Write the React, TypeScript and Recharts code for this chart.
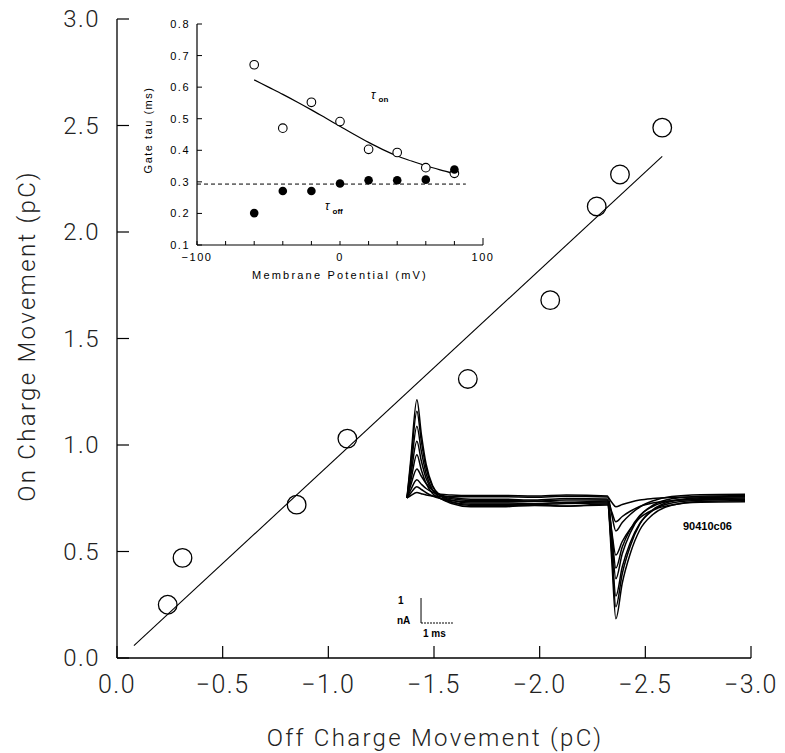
import React from 'react';
import {
  ComposedChart,
  LineChart,
  Line,
  Scatter,
  XAxis,
  YAxis,
  ReferenceLine,
} from 'recharts';

// main plot: on vs off charge (pC)
const offCharge = [-0.24, -0.31, -0.85, -1.09, -1.66, -2.05, -2.27, -2.38, -2.58];
const onCharge = [0.25, 0.47, 0.72, 1.03, 1.31, 1.68, 2.12, 2.27, 2.49];
const fitOff = [-0.08, -2.58];
const fitOn = [0.058, 2.355];
const mainXTicks = [0, -0.5, -1, -1.5, -2, -2.5, -3];
const mainYTicks = [0, 0.5, 1, 1.5, 2, 2.5, 3];

// inset: gate tau vs membrane potential
const voltages = [-60, -40, -20, 0, 20, 40, 60, 80];
const tauOn = [0.671, 0.47, 0.552, 0.491, 0.403, 0.393, 0.345, 0.327];
const tauOff = [0.201, 0.271, 0.271, 0.295, 0.305, 0.305, 0.307, 0.339];
const fitV = [-60, -50, -40, -30, -20, -10, 0, 10, 20, 30, 40, 50, 60, 70, 80];
const fitTau = [0.623, 0.6, 0.577, 0.553, 0.528, 0.502, 0.476, 0.45, 0.425, 0.402, 0.382, 0.366, 0.351, 0.338, 0.326];
const offLevelV = [-100, 88];
const offLevel = 0.293;
const insetXTicks = [-100, -80, -60, -40, -20, 0, 20, 40, 60, 80, 100];
const insetXLabels = [-100, 0, 100];
const insetYTicks = [0.1, 0.2, 0.3, 0.4, 0.5, 0.6, 0.7, 0.8];

// current traces (ms, nA)
const traceTime = [0, 0.12, 0.31, 0.45, 0.6, 0.8, 1.05, 1.4, 2.0, 3.0, 4.0, 5.0, 6.29, 6.42, 6.55, 6.75, 7.0, 7.3, 7.7, 8.3, 9.2, 10.6];
const trace1 = [0, 1.57, 3.93, 2.55, 1.35, 0.5, 0.09, -0.16, -0.3, -0.3, -0.28, -0.32, -0.24, -2.47, -4.83, -3.41, -2.23, -1.28, -0.67, -0.29, -0.14, -0.1];
const trace2 = [0, 1.39, 3.47, 2.26, 1.19, 0.46, 0.11, -0.09, -0.2, -0.2, -0.22, -0.18, -0.16, -2.15, -4.35, -3.03, -1.93, -1.05, -0.48, -0.13, 0.01, 0.05];
const trace3 = [0, 1.15, 2.87, 1.87, 0.97, 0.33, -0.01, -0.22, -0.35, -0.35, -0.3, -0.33, -0.28, -1.99, -3.92, -2.76, -1.79, -1.02, -0.51, -0.2, -0.09, -0.05];
const trace4 = [0, 0.91, 2.27, 1.48, 0.78, 0.31, 0.09, -0.03, -0.1, -0.1, -0.12, -0.08, -0.08, -1.57, -3.23, -2.23, -1.4, -0.73, -0.3, -0.03, 0.07, 0.1];
const trace5 = [0, 0.69, 1.73, 1.12, 0.58, 0.18, -0.02, -0.17, -0.25, -0.25, -0.27, -0.22, -0.2, -1.4, -2.8, -1.96, -1.26, -0.7, -0.34, -0.11, -0.03, 0];
const trace6 = [0, 0.52, 1.16, 0.87, 0.58, 0.31, 0.13, 0.02, -0.05, -0.05, -0.08, -0.02, -0.04, -1.32, -2.28, -1.74, -1.24, -0.8, -0.49, -0.28, -0.17, -0.15];
const trace7 = [0, 0.33, 0.73, 0.55, 0.38, 0.23, 0.15, 0.12, 0.1, 0.1, 0.08, 0.12, 0.08, -0.66, -1.32, -0.98, -0.66, -0.36, -0.12, 0.06, 0.13, 0.15];
const trace8 = [0, 0.2, 0.45, 0.34, 0.21, 0.08, -0.02, -0.1, -0.15, -0.15, -0.13, -0.17, -0.12, -0.55, -0.95, -0.74, -0.53, -0.34, -0.2, -0.11, -0.06, -0.05];
const trace9 = [0, 0.1, 0.22, 0.17, 0.12, 0.08, 0.06, 0.05, 0.05, 0.05, 0.03, 0.07, 0.04, -0.17, -0.35, -0.26, -0.17, -0.08, -0.02, 0.02, 0.04, 0.05];
const traces = [trace1, trace2, trace3, trace4, trace5, trace6, trace7, trace8, trace9];

const mainPoints = offCharge.map((x, i) => ({ x, y: onCharge[i] }));
const fitLine = fitOff.map((x, i) => ({ x, y: fitOn[i] }));
const onPoints = voltages.map((x, i) => ({ x, y: tauOn[i] }));
const offPoints = voltages.map((x, i) => ({ x, y: tauOff[i] }));
const fitCurve = fitV.map((x, i) => ({ x, y: fitTau[i] }));
const offLine = offLevelV.map(x => ({ x, y: offLevel }));
const traceData = traceTime.map((t, i) => {
  const row: Record<string, number> = { t };
  traces.forEach((tr, k) => (row[`c${k}`] = tr[i]));
  return row;
});

const THIN = "Roboto, 'DejaVu Sans', sans-serif";
const SMALL = "'Liberation Sans', Arial, sans-serif";

const fmtMain = (v: number) => (v === 0 ? '0.0' : (v < 0 ? '\u2212' : '') + Math.abs(v).toFixed(1));

const MainXTick = ({ x, y, payload }: any) => (
  <g>
    <line x1={x} x2={x} y1={y} y2={y - 12} stroke="#000" strokeWidth={1.2} />
    <text x={x} y={y + 35} textAnchor="middle" fontFamily={THIN} fontWeight={300} fontSize={25} letterSpacing={1.5} fill="#222">
      {fmtMain(payload.value)}
    </text>
  </g>
);

const MainYTick = ({ x, y, payload }: any) => (
  <g>
    <line x1={x} x2={x + 12} y1={y} y2={y} stroke="#000" strokeWidth={1.2} />
    <text x={x - 17} y={y + 8} textAnchor="end" fontFamily={THIN} fontWeight={300} fontSize={24} letterSpacing={1.5} fill="#222">
      {fmtMain(payload.value)}
    </text>
  </g>
);

const InsetXTick = ({ x, y, payload }: any) => {
  const labelled = insetXLabels.includes(payload.value);
  const len = payload.value === 100 ? 7 : 4;
  return (
    <g>
      <line x1={x} x2={x} y1={y} y2={y - len} stroke="#000" strokeWidth={1} />
      {labelled && (
        <text x={x} y={y + 16} textAnchor="middle" fontFamily={SMALL} fontSize={11} letterSpacing={1.5} fill="#000">
          {payload.value < 0 ? '\u2212' + Math.abs(payload.value) : payload.value}
        </text>
      )}
    </g>
  );
};

const InsetYTick = ({ x, y, payload }: any) => (
  <g>
    <line x1={x} x2={x + 5} y1={y} y2={y} stroke="#000" strokeWidth={1} />
    <text x={x - 7} y={y + 4} textAnchor="end" fontFamily={SMALL} fontSize={11} letterSpacing={1.5} fill="#000">
      {payload.value.toFixed(1)}
    </text>
  </g>
);

const OpenCircle = ({ cx, cy }: any) => (
  <circle cx={cx} cy={cy} r={9.3} fill="none" stroke="#000" strokeWidth={1.3} />
);
const SmallOpen = ({ cx, cy }: any) => (
  <circle cx={cx} cy={cy} r={4.3} fill="#fff" stroke="#000" strokeWidth={1.1} />
);
const SmallFilled = ({ cx, cy }: any) => <circle cx={cx} cy={cy} r={4.3} fill="#000" />;

export default function App() {
  return (
    <div style={{ position: 'absolute', left: 0, top: 0, width: 785, height: 753, background: '#fff', overflow: 'hidden' }}>
      <div style={{ position: 'absolute', left: 0, top: 0 }}>
        <ComposedChart width={785} height={753} margin={{ top: 19, right: 34, bottom: 65, left: 57 }}>
          <XAxis
            type="number"
            dataKey="x"
            domain={[-3, 0]}
            reversed
            ticks={mainXTicks}
            height={30}
            tickSize={0}
            tickMargin={0}
            tickLine={false}
            axisLine={{ stroke: '#000', strokeWidth: 1.3 }}
            tick={<MainXTick />}
            interval={0}
          />
          <YAxis
            type="number"
            dataKey="y"
            domain={[0, 3]}
            ticks={mainYTicks}
            width={60}
            tickSize={0}
            tickMargin={0}
            tickLine={false}
            axisLine={{ stroke: '#000', strokeWidth: 1.3 }}
            tick={<MainYTick />}
            interval={0}
          />
          <Line data={fitLine} dataKey="y" stroke="#000" strokeWidth={1.1} dot={false} isAnimationActive={false} />
          <Scatter data={mainPoints} shape={<OpenCircle />} isAnimationActive={false} />
        </ComposedChart>
      </div>

      <div style={{ position: 'absolute', left: 130, top: 0 }}>
        <ComposedChart width={380} height={290} margin={{ top: 24, right: 27, bottom: 25, left: 37 }}>
          <XAxis
            type="number"
            dataKey="x"
            domain={[-100, 100]}
            ticks={insetXTicks}
            height={20}
            tickSize={0}
            tickMargin={0}
            tickLine={false}
            axisLine={{ stroke: '#000', strokeWidth: 1.2 }}
            tick={<InsetXTick />}
            interval={0}
          />
          <YAxis
            type="number"
            dataKey="y"
            domain={[0.1, 0.8]}
            ticks={insetYTicks}
            width={30}
            tickSize={0}
            tickMargin={0}
            tickLine={false}
            axisLine={{ stroke: '#000', strokeWidth: 1.2 }}
            tick={<InsetYTick />}
            interval={0}
          />
          <Line data={offLine} dataKey="y" stroke="#000" strokeWidth={1} strokeDasharray="4 3" dot={false} isAnimationActive={false} />
          <Line data={fitCurve} dataKey="y" type="monotone" stroke="#000" strokeWidth={1.2} dot={false} isAnimationActive={false} />
          <Scatter data={onPoints} shape={<SmallOpen />} isAnimationActive={false} />
          <Scatter data={offPoints} shape={<SmallFilled />} isAnimationActive={false} />
        </ComposedChart>
      </div>

      <div style={{ position: 'absolute', left: 395, top: 380 }}>
        <LineChart width={370} height={270} data={traceData} margin={{ top: 18, right: 20, bottom: 2, left: 12 }}>
          <XAxis type="number" dataKey="t" domain={[0, 10.6]} hide />
          <YAxis type="number" domain={[-6, 4]} hide />
          {traces.map((_, k) => (
            <Line
              key={k}
              dataKey={`c${k}`}
              type="monotone"
              stroke="#000"
              strokeWidth={1.5}
              dot={false}
              isAnimationActive={false}
            />
          ))}
          <ReferenceLine segment={[{ x: 0.44, y: -4 }, { x: 0.44, y: -5 }]} stroke="#000" strokeWidth={1} />
          <ReferenceLine segment={[{ x: 0.44, y: -5 }, { x: 1.44, y: -5 }]} stroke="#000" strokeWidth={1} strokeDasharray="2 1" />
        </LineChart>
      </div>

      <svg width={785} height={753} style={{ position: 'absolute', left: 0, top: 0, pointerEvents: 'none' }}>
        <text x={435} y={746} textAnchor="middle" fontFamily={THIN} fontWeight={300} fontSize={24} letterSpacing={2.3} fill="#222">
          Off Charge Movement (pC)
        </text>
        <text
          x={29}
          y={336}
          textAnchor="middle"
          fontFamily={THIN}
          fontWeight={300}
          fontSize={24}
          letterSpacing={2.3}
          fill="#222"
          transform="rotate(-90 29 336)"
          dominantBaseline="middle"
        >
          On Charge Movement (pC)
        </text>
        <text x={340} y={279} textAnchor="middle" fontFamily={SMALL} fontSize={11} letterSpacing={2.2} fill="#000">
          Membrane Potential (mV)
        </text>
        <text x={149} y={130} textAnchor="middle" fontFamily={SMALL} fontSize={11} letterSpacing={1.5} fill="#000" transform="rotate(-90 149 130)" dominantBaseline="middle">
          Gate tau (ms)
        </text>
        <text x={371} y={99} fontFamily={SMALL} fontStyle="italic" fontSize={12} fill="#000">
          {'\u03c4'}
          <tspan dx={3} dy={3} fontStyle="normal" fontWeight="bold" fontSize={8}>on</tspan>
        </text>
        <text x={325} y={210} fontFamily={SMALL} fontStyle="italic" fontSize={12} fill="#000">
          {'\u03c4'}
          <tspan dx={3} dy={4} fontStyle="normal" fontWeight="bold" fontSize={8}>off</tspan>
        </text>
        <text x={683} y={530} fontFamily={SMALL} fontWeight="bold" fontSize={11} fill="#000">90410c06</text>
        <text x={398} y={604} fontFamily={SMALL} fontWeight="bold" fontSize={10} fill="#000">1</text>
        <text x={397} y={624} fontFamily={SMALL} fontWeight="bold" fontSize={10} fill="#000">nA</text>
        <text x={423} y={637} fontFamily={SMALL} fontWeight="bold" fontSize={10} fill="#000">1 ms</text>
      </svg>
    </div>
  );
}
